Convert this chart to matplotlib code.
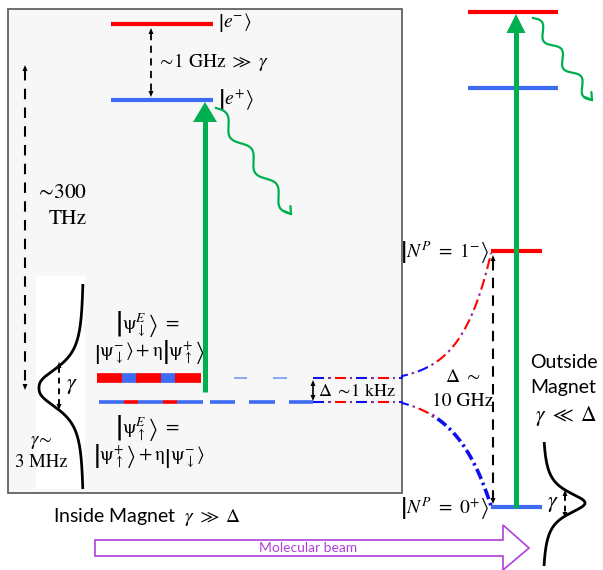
import numpy as np
import matplotlib
matplotlib.use("Agg")
import matplotlib.pyplot as plt
from matplotlib.patches import Rectangle, Polygon

plt.rcParams['mathtext.fontset'] = 'stix'

# ---- diagram data (pixel coordinates, y downwards) ----
inside_excited_y = [24, 100]          # |e->, |e+>
inside_excited_x = [111, 213]
outside_excited_y = [12, 88]
outside_excited_x = [468, 558]
rot_y = [251, 507]                    # |N=1->, |N=0+>
rot_x = [491, 542]
ground_y = [378, 402]                 # |psi_down^E>, |psi_up^E>
stripe_up_x = [97, 122, 136, 161, 175, 201]
stripe_up_c = ['red', 'blue', 'red', 'blue', 'red']
stripe_lo_x = [99, 124, 138, 163, 177, 203]
stripe_lo_c = ['blue', 'red', 'blue', 'red', 'blue']
lo_dashes = [(210, 235), (249, 275), (289, 313)]
up_dashes = [(234, 247), (273, 287)]
box = [8, 9, 402, 493]
laser_x = [205, 516]

RED = '#ff0000'
BLUE = '#3d6cf2'
LBLUE = '#86a9f6'
DBLUE = '#1010ee'
GREEN = '#00b050'
PURPLE = '#8a2a9a'
BEAM = '#b040dd'
colmap = {'red': RED, 'blue': BLUE}

fig = plt.figure(figsize=(6.03, 5.70), dpi=100)
ax = fig.add_axes([0, 0, 1, 1])
ax.set_xlim(0, 603)
ax.set_ylim(570, 0)
ax.axis('off')

SERIF = ['STIXGeneral', 'DejaVu Serif']
SANS = ['Lato', 'DejaVu Sans']

ax.add_patch(Rectangle((box[0], box[1]), box[2] - box[0], box[3] - box[1],
                       facecolor='#f7f7f7', edgecolor='#555555', lw=1.2, zorder=0))


def ket(s):
    return r'\left|' + s + r'\right\rangle'


def head(x, y, direction, size=5):
    # small filled arrow head pointing up (-1) or down (+1)
    tri = [(x, y), (x - size * 0.5, y - direction * size * 1.2),
           (x + size * 0.5, y - direction * size * 1.2)]
    ax.add_patch(Polygon(tri, closed=True, color='k', lw=0, zorder=6))


def dashed_vline(x, y0, y1, lw=1.4, dashes=(4, 3), size=5):
    line, = ax.plot([x, x], [y0 + size, y1 - size], color='k', lw=lw, zorder=5)
    line.set_dashes(dashes)
    head(x, y0, -1, size)
    head(x, y1, 1, size)


def lineshape(xb, amp, yc, hw, p, ytop, ybot, sign):
    y = np.linspace(ytop, ybot, 300)
    x = xb + sign * amp / (1 + np.abs((y - yc) / hw) ** p)
    ax.plot(x, y, color='k', lw=2.0, zorder=5, solid_capstyle='butt')


def wavy(x0, y0, x1, y1, n=3, amp=5.5):
    L = np.hypot(x1 - x0, y1 - y0)
    d = np.array([x1 - x0, y1 - y0]) / L
    nrm = np.array([d[1], -d[0]])
    s = np.linspace(0, L, 400)
    off = amp * np.sin(2 * np.pi * n * s / L)
    px = x0 + d[0] * s + nrm[0] * off
    py = y0 + d[1] * s + nrm[1] * off
    ax.plot(px, py, color=GREEN, lw=1.6, zorder=4)
    for a in (0.55, -0.55):
        c, sn = np.cos(a), np.sin(a)
        back = -np.array([d[0] * c - d[1] * sn, d[0] * sn + d[1] * c]) * 8
        ax.plot([px[-1], px[-1] + back[0]], [py[-1], py[-1] + back[1]],
                color=GREEN, lw=1.6, zorder=4, solid_capstyle='round')


def laser(x, ybot, ytop, hl, hw):
    ax.plot([x, x], [ybot, ytop + hl - 1], color=GREEN, lw=3.6, zorder=3,
            solid_capstyle='butt')
    ax.add_patch(Polygon([(x, ytop), (x - hw / 2, ytop + hl), (x + hw / 2, ytop + hl)],
                         closed=True, color=GREEN, lw=0, zorder=3))


def patterned(xs, ys, colors, lws, dash=11, dot=2.5, gap=4):
    xs, ys = np.asarray(xs, float), np.asarray(ys, float)
    s = np.concatenate([[0], np.cumsum(np.hypot(np.diff(xs), np.diff(ys)))])
    pos, k = 0.0, 0
    while pos < s[-1]:
        length = dash if k % 2 == 0 else dot
        a, b = pos, min(pos + length, s[-1])
        ss = np.linspace(a, b, 12)
        px, py = np.interp(ss, s, xs), np.interp(ss, s, ys)
        ax.plot(px, py, color=colors(k, px[0]), lw=lws(px[0]), zorder=4,
                solid_capstyle='butt')
        pos = b + gap
        k += 1


# ---- inside magnet levels ----
for y, c in zip(inside_excited_y, [RED, BLUE]):
    ax.plot(inside_excited_x, [y, y], color=c, lw=3, solid_capstyle='butt', zorder=2)
ax.text(218, inside_excited_y[0] - 1, '$' + ket(r'e^{-}_{\ }') + '$', family=SERIF,
        fontsize=14, ha='left', va='center')
ax.text(218, inside_excited_y[1] - 1, '$' + ket(r'e^{+}_{\ }') + '$', family=SERIF,
        fontsize=14, ha='left', va='center')
dashed_vline(151, inside_excited_y[0] + 4, inside_excited_y[1] - 3, lw=1.3)
ax.text(157, 62, r'$\sim\!1\ \mathrm{GHz}\ \gg\ \gamma$', family=SERIF, fontsize=14,
        ha='left', va='center')

# ~300 THz arrow
dashed_vline(25, 65, 390, lw=1.5, dashes=(5, 4), size=5)
ax.text(87, 193, r'$\sim\!$300', family=SERIF, fontsize=15.5, ha='right', va='center')
ax.text(87, 219, 'THz', family=SERIF, fontsize=15.5, ha='right', va='center')

# striped ground pair
for i, c in enumerate(stripe_up_c):
    ax.plot(stripe_up_x[i:i + 2], [ground_y[0]] * 2, color=colmap[c], lw=7,
            solid_capstyle='butt', zorder=2)
for i, c in enumerate(stripe_lo_c):
    ax.plot(stripe_lo_x[i:i + 2], [ground_y[1]] * 2, color=colmap[c], lw=2.6,
            solid_capstyle='butt', zorder=2)
for a, b in lo_dashes:
    ax.plot([a, b], [ground_y[1]] * 2, color=BLUE, lw=2.6, solid_capstyle='butt', zorder=2)
for a, b in up_dashes:
    ax.plot([a, b], [ground_y[0]] * 2, color=LBLUE, lw=1.4, solid_capstyle='butt', zorder=2)

psi_dn = ket(r'\mathrm{\psi}^{-}_{\downarrow}')
psi_up = ket(r'\mathrm{\psi}^{+}_{\uparrow}')
ax.text(148, 325, '$' + ket(r'\mathrm{\psi}^{E}_{\downarrow}') + r'\ =$', family=SERIF,
        fontsize=14, ha='center', va='center')
ax.text(149, 353, '$' + psi_dn + r' + \mathrm{\eta}' + psi_up + '$',
        family=SERIF, fontsize=14, ha='center', va='center')
ax.text(148, 429, '$' + ket(r'\mathrm{\psi}^{E}_{\uparrow}') + r'\ =$', family=SERIF,
        fontsize=14, ha='center', va='center')
ax.text(149, 457, '$' + psi_up + r' + \mathrm{\eta}' + psi_dn + '$',
        family=SERIF, fontsize=14, ha='center', va='center')

# left linewidth
ax.add_patch(Rectangle((36, 276), 49, 213, facecolor='white', edgecolor='none', zorder=1))
lineshape(84, 45, 388, 24, 2.5, 284, 489, -1)
dashed_vline(59, 362, 410, lw=1.4, dashes=(3, 2.5), size=5)
ax.text(66, 386, r'$\gamma$', family=SERIF, fontsize=16, ha='left', va='center')
ax.text(41, 442, r'$\gamma\!\sim$', family=SERIF, fontsize=13.5, ha='center', va='center')
ax.text(41, 462, '3 MHz', family=SERIF, fontsize=13.5, ha='center', va='center')

# laser + decay inside
laser(laser_x[0], 392, inside_excited_y[1] + 2, 20, 24)
wavy(216, 108, 291, 214)

# ---- splitting lines ----
xf = np.linspace(313, 402, 40)
t = np.linspace(0, 1, 120)
xc = 402 + t * (rot_x[0] - 402)
up_curve = ground_y[0] - 2 - (ground_y[0] - 2 - rot_y[0] - 2) * (np.exp(3 * t) - 1) / (np.exp(3) - 1)
lo_curve = ground_y[1] + 1 + (rot_y[1] - 1 - ground_y[1] - 1) * (np.exp(2.5 * t) - 1) / (np.exp(2.5) - 1)


def col_up(k, x):
    if k % 2:
        return PURPLE
    if x < 400:
        return DBLUE if (k // 2) % 2 == 0 else RED
    return DBLUE if x < 420 else RED


def col_lo(k, x):
    if k % 2:
        return PURPLE if x < 440 else DBLUE
    if x < 400:
        return DBLUE if (k // 2) % 2 == 0 else RED
    return RED if x < 420 else DBLUE


patterned(np.concatenate([xf, xc]), np.concatenate([np.full(40, ground_y[0]), up_curve]),
          col_up, lambda x: 1.5)
patterned(np.concatenate([xf, xc]), np.concatenate([np.full(40, ground_y[1]), lo_curve]),
          col_lo, lambda x: 1.5 if x < 420 else 2.6)

ax.plot([313, 313], [ground_y[0] + 6, ground_y[1] - 6], color='k', lw=1.2, zorder=5)
head(313, ground_y[0] + 2, -1, 5)
head(313, ground_y[1] - 1, 1, 5)
ax.text(318, 391, r'$\Delta\ \sim\!1\ \mathrm{kHz}$', family=SERIF, fontsize=13,
        ha='left', va='center')

# ---- outside magnet levels ----
for y, c in zip(outside_excited_y, [RED, BLUE]):
    ax.plot(outside_excited_x, [y, y], color=c, lw=3, solid_capstyle='butt', zorder=2)
for y, c in zip(rot_y, [RED, BLUE]):
    ax.plot(rot_x, [y, y], color=c, lw=3, solid_capstyle='butt', zorder=2)
laser(laser_x[1], 508, outside_excited_y[0] + 2, 19, 19)
wavy(533, 18, 592, 100, n=3, amp=5)

ax.text(489, 252, '$' + ket(r'N^{P}_{\ }\ =\ 1^{-}') + '$', family=SERIF, fontsize=14,
        ha='right', va='center')
ax.text(489, 508, '$' + ket(r'N^{P}_{\ }\ =\ 0^{+}') + '$', family=SERIF, fontsize=14,
        ha='right', va='center')
dashed_vline(493, rot_y[0] + 4, rot_y[1] - 3, lw=1.5, dashes=(5, 3.5), size=5)
ax.text(463, 377, r'$\Delta\ \sim$', family=SERIF, fontsize=14, ha='center', va='center')
ax.text(463, 401, '10 GHz', family=SERIF, fontsize=14, ha='center', va='center')

ax.text(530, 362, 'Outside', family=SANS, fontsize=14, ha='left', va='center')
ax.text(530, 388, 'Magnet', family=SANS, fontsize=14, ha='left', va='center')
ax.text(535, 416, r'$\gamma\ \ll\ \Delta$', family=SERIF, fontsize=15.5, ha='left', va='center')

# right linewidth
lineshape(542, 43, 503, 14, 2, 442, 566, 1)
dashed_vline(565, 490, 518, lw=1.4, dashes=(3, 2.5), size=5)
ax.text(553, 504, r'$\gamma$', family=SERIF, fontsize=16, ha='center', va='center')

# bottom
ax.text(53, 517, r'Inside Magnet  $\gamma\ \gg\ \Delta$', family=SANS, fontsize=14,
        ha='left', va='center')
beam = [(95, 540), (503, 540), (503, 525), (529, 548), (503, 570), (503, 556), (95, 556)]
ax.add_patch(Polygon(beam, closed=True, facecolor='white', edgecolor=BEAM, lw=1.2, zorder=2))
ax.text(308, 548, 'Molecular beam', family=SANS, fontsize=10, color=BEAM,
        ha='center', va='center', zorder=3)

fig.savefig('out.png', dpi=100)
